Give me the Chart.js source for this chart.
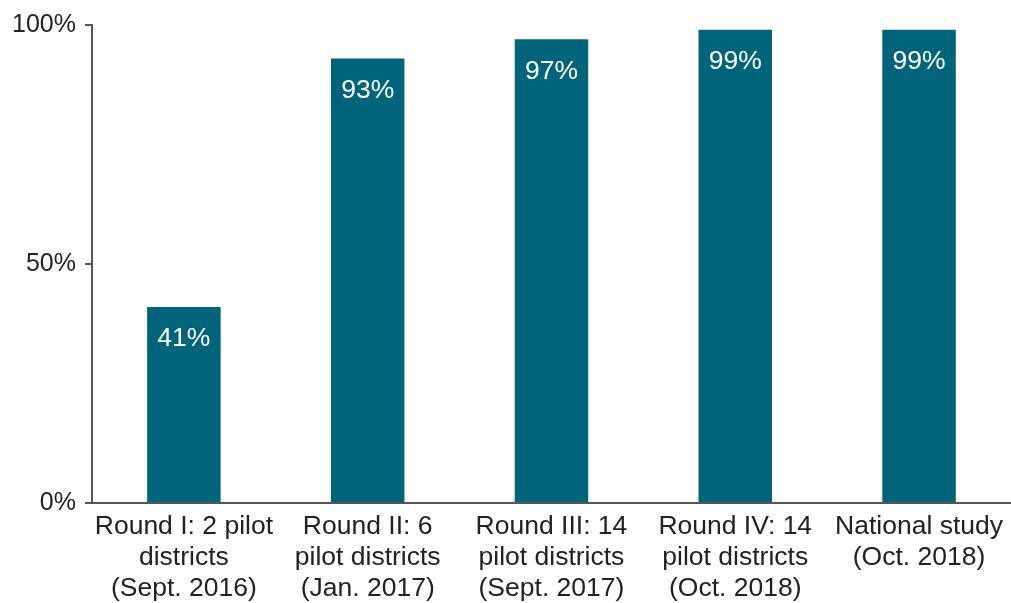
<!DOCTYPE html>
<html>
<head>
<meta charset="utf-8">
<script src="https://cdn.jsdelivr.net/npm/chart.js@4/dist/chart.umd.min.js"></script>
<style>
    html, body { margin: 0; padding: 0; background: #fff; }
    #wrap { width: 1011px; height: 603px; }
</style>
</head>
<body>
<div id="wrap"><canvas id="coverage-chart"></canvas></div>
<script>
const rounds = [
    ['Round I: 2 pilot', 'districts', '(Sept. 2016)'],
    ['Round II: 6', 'pilot districts', '(Jan. 2017)'],
    ['Round III: 14', 'pilot districts', '(Sept. 2017)'],
    ['Round IV: 14', 'pilot districts', '(Oct. 2018)'],
    ['National study', '(Oct. 2018)']
];
const coverage = [41, 93, 97, 99, 99];
const yTicks = [0, 50, 100];

const barColor = '#02647a';
const axisColor = '#555555';
const textColor = '#222222';
const fontFamily = '"Liberation Sans", Arial, sans-serif';

// white value labels sitting just inside the top of each bar
const barValueLabels = {
    id: 'barValueLabels',
    afterDatasetsDraw(chart) {
        const ctx = chart.ctx;
        const meta = chart.getDatasetMeta(0);
        ctx.save();
        ctx.fillStyle = '#ffffff';
        ctx.font = '26.5px ' + fontFamily;
        ctx.textAlign = 'center';
        ctx.textBaseline = 'middle';
        meta.data.forEach((bar, i) => {
            ctx.fillText(coverage[i] + '%', bar.x, bar.y + 32);
        });
        ctx.restore();
    }
};

const ctx = document.getElementById('coverage-chart').getContext('2d');
new Chart(ctx, {
    type: 'bar',
    data: {
        labels: rounds,
        datasets: [{
            data: coverage,
            backgroundColor: barColor,
            barPercentage: 0.4,
            categoryPercentage: 1.0
        }]
    },
    options: {
        responsive: true,
        maintainAspectRatio: false,
        animation: false,
        layout: { padding: { top: 25, right: 0, bottom: 0, left: 0 } },
        plugins: {
            legend: { display: false },
            tooltip: { enabled: false }
        },
        scales: {
            x: {
                grid: { drawOnChartArea: false, drawTicks: false },
                border: { color: axisColor, width: 2 },
                ticks: {
                    color: textColor,
                    padding: 8,
                    maxRotation: 0,
                    autoSkip: false,
                    font: { family: fontFamily, size: 26.5, lineHeight: 1.18 }
                },
                afterFit(scale) { scale.height = 100; }
            },
            y: {
                min: 0,
                max: 100,
                afterBuildTicks(scale) {
                    scale.ticks = yTicks.map(v => ({ value: v }));
                },
                grid: { drawOnChartArea: false, drawTicks: true, tickLength: 7, color: axisColor, lineWidth: 2 },
                border: { color: axisColor, width: 2 },
                ticks: {
                    color: textColor,
                    padding: 9,
                    font: { family: fontFamily, size: 25 },
                    callback: v => v + '%'
                },
                afterFit(scale) { scale.width = 92; }
            }
        }
    },
    plugins: [barValueLabels]
});
</script>
</body>
</html>
